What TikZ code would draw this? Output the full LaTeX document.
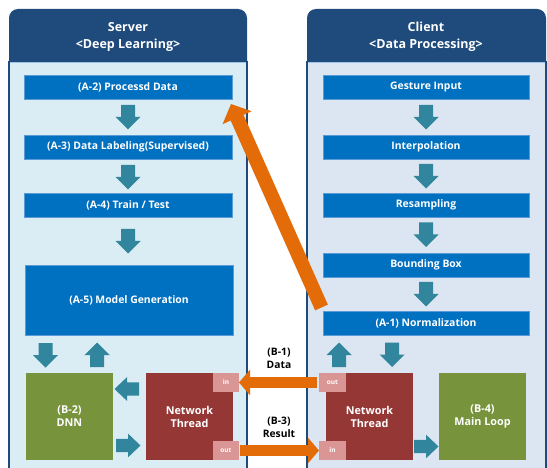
\documentclass[tikz,border=0pt]{standalone}
\usepackage{fontspec}
\setmainfont{Open Sans}[BoldFont={* Bold}]
\usetikzlibrary{arrows.meta}
\definecolor{headcol}{HTML}{1F4A7C}
\definecolor{serverbody}{HTML}{DAEDF4}
\definecolor{clientbody}{HTML}{DCE6F2}
\definecolor{boxblue}{HTML}{0070C0}
\definecolor{boxedge}{HTML}{5B9BD5}
\definecolor{tealarrow}{HTML}{31859C}
\definecolor{dnngreen}{HTML}{77933C}
\definecolor{ntred}{HTML}{953735}
\definecolor{portpink}{HTML}{D99694}
\definecolor{orangearr}{HTML}{E36C09}
\tikzset{
  x=1pt, y=-1pt,
  bluebox/.style={draw=boxedge, line width=0.6pt, fill=boxblue, text=white, font=\bfseries\fontsize{10.4}{12}\selectfont, inner sep=0pt, outer sep=0pt, minimum height=24pt},
  bigbox/.style={inner sep=0pt, outer sep=0pt, minimum width=87pt, minimum height=87pt, text=white, align=center, font=\bfseries\fontsize{10.8}{13}\selectfont},
  portbox/.style={fill=portpink, text=white, inner sep=0pt, outer sep=0pt, minimum height=19pt, font=\bfseries\fontsize{6.5}{7}\selectfont},
  headtext/.style={text=white, align=center, font=\bfseries\fontsize{12.5}{17}\selectfont},
  flowlabel/.style={text=black, align=center, font=\bfseries\fontsize{10.3}{13}\selectfont},
  orangeflow/.style={draw=orangearr, line width=11pt, -{Triangle[width=25pt,length=11pt]}},
  blockarrow/.pic={\fill[tealarrow] (-7,0) -- (7,0) -- (7,12) -- (12.5,12) -- (0,24.5) -- (-12.5,12) -- (-7,12) -- cycle;},
}
\begin{document}
\begin{tikzpicture}
\useasboundingbox (0,0) rectangle (547,468);
\fill[white] (0,0) rectangle (547,468);
% server panel
\draw[headcol, line width=1.3pt, fill=serverbody] (9,475) -- (9,62) -- (247,62) -- (247,475);
\fill[headcol] (9,62) [rounded corners=9pt] -- (9,9) -- (247,9) [sharp corners] -- (247,62) -- cycle;
\draw[boxedge!60!white, line width=0.8pt] (10,62.5) -- (246,62.5);
% client panel
\draw[headcol, line width=1.3pt, fill=clientbody] (307,475) -- (307,62) -- (546,62) -- (546,475);
\fill[headcol] (307,62) [rounded corners=9pt] -- (307,9) -- (546,9) [sharp corners] -- (546,62) -- cycle;
\draw[boxedge!60!white, line width=0.8pt] (308,62.5) -- (545,62.5);

\node[headtext] (shead) at (128,37) {Server\\<Deep Learning>};
\node[headtext] (chead) at (426,37) {Client\\<Data Processing>};

% server boxes
\node[bluebox, minimum width=208pt] (a2) at (128,87) {(A-2) Processd Data};
\node[bluebox, minimum width=208pt] (a3) at (128,147) {(A-3) Data Labeling(Supervised)};
\node[bluebox, minimum width=208pt] (a4) at (128,205) {(A-4) Train / Test};
\node[bluebox, minimum width=208pt, minimum height=70pt] (a5) at (129,300) {(A-5) Model Generation};
\pic (s1) at (128,105) {blockarrow};
\pic (s2) at (128,165) {blockarrow};
\pic (s3) at (128,229) {blockarrow};

% client boxes
\node[bluebox, minimum width=206pt] (gi) at (426,87) {Gesture Input};
\node[bluebox, minimum width=206pt] (ip) at (426,147) {Interpolation};
\node[bluebox, minimum width=206pt] (rs) at (426,205) {Resampling};
\node[bluebox, minimum width=206pt] (bb) at (426,265) {Bounding Box};
\node[bluebox, minimum width=206pt] (a1) at (426,323) {(A-1) Normalization};
\pic (c1) at (426,105) {blockarrow};
\pic (c2) at (426,164) {blockarrow};
\pic (c3) at (426,222.5) {blockarrow};
\pic (c4) at (426,282) {blockarrow};

% bottom server
\node[bigbox, fill=dnngreen] (dnn) at (69.5,416.5) {(B-2)\\DNN};
\node[bigbox, fill=ntred] (snt) at (189.5,416.5) {Network\\Thread};
\node[portbox, minimum width=26pt] (sin) at (226,382.5) {in};
\node[portbox, minimum width=26pt] (sout) at (226,450.5) {out};
\pic (sd) at (45.5,343) {blockarrow};
\pic[rotate=180] (su) at (97,367) {blockarrow};
\pic[rotate=-90, xscale=0.95] (sl) at (139,389) {blockarrow};
\pic[rotate=90, xscale=0.95] (sr) at (116,445.5) {blockarrow};

% bottom client
\node[bigbox, fill=ntred] (cnt) at (369.5,416.5) {Network\\Thread};
\node[bigbox, fill=dnngreen] (ml) at (482.5,416.5) {(B-4)\\Main Loop};
\node[portbox, minimum width=27pt] (cout) at (332.5,382.5) {out};
\node[portbox, minimum width=27pt] (cin) at (332.5,450.5) {in};
\pic[rotate=180] (cu) at (339,367) {blockarrow};
\pic (cd) at (392,342.5) {blockarrow};
\pic[rotate=90, xscale=0.95] (cr) at (414,446.5) {blockarrow};

% labels
\node[flowlabel] (b1) at (279,358) {(B-1)\\Data};
\node[flowlabel] (b3) at (279,427) {(B-3)\\Result};

% orange flows
\draw[orangeflow] ([xshift=-2pt]cout.west) -- (sin.east);
\draw[orangeflow] ([xshift=1pt]sout.east) -- (cin.west);
\coordinate (dstart) at (321.5,307.5);
\coordinate (dend) at (231,104);
\draw[draw=orangearr, line width=14pt, -{Triangle[width=31pt,length=15pt]}] (dstart) -- (dend);
\end{tikzpicture}
\end{document}
